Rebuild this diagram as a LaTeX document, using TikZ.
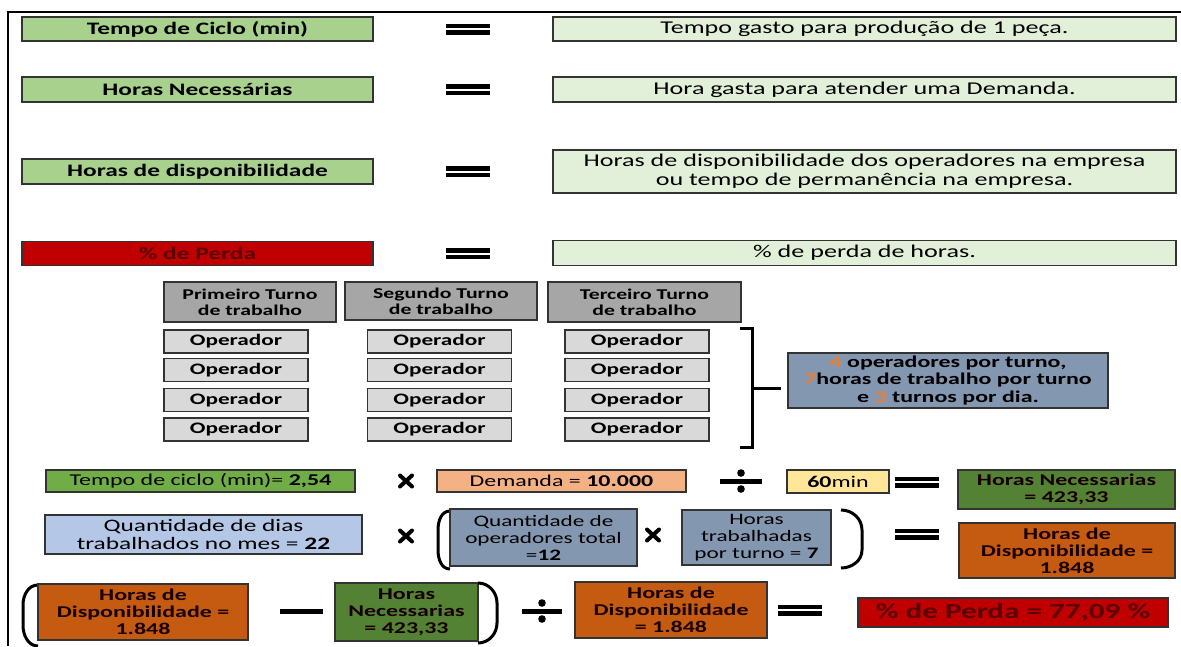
\documentclass[tikz,border=0pt]{standalone}
\usepackage{fontspec}
\setmainfont{Carlito}[FakeStretch=1.45]
\usepackage{tikz}
\usepackage{xcolor}

\definecolor{verdeClaro}{HTML}{A9D18E}
\definecolor{verdePalido}{HTML}{E2F0D9}
\definecolor{vermelho}{HTML}{C00000}
\definecolor{vermelhoEsc}{HTML}{5A0000}
\definecolor{cinzaEsc}{HTML}{A6A6A6}
\definecolor{cinzaClaro}{HTML}{D9D9D9}
\definecolor{azulCinza}{HTML}{8497B0}
\definecolor{azulClaro}{HTML}{B4C7E7}
\definecolor{verdeMedio}{HTML}{70AD47}
\definecolor{verdeEsc}{HTML}{548235}
\definecolor{laranjaClaro}{HTML}{F4B183}
\definecolor{amarelo}{HTML}{FFE699}
\definecolor{laranja}{HTML}{C55A11}
\definecolor{laranjaNum}{HTML}{ED7D31}

\newcommand{\fs}[2]{\fontsize{#1}{#2}\selectfont}

% sinais das contas
\newcommand{\sinalIgual}[2]{%
  \fill (#1-22,#2-5.5) rectangle (#1+22,#2-1);
  \fill (#1-22,#2+1) rectangle (#1+22,#2+5.5);}
\newcommand{\sinalVezes}[2]{%
  \draw[line width=4pt, line cap=round] (#1-6,#2-5.5) -- (#1+6,#2+5.5) (#1-6,#2+5.5) -- (#1+6,#2-5.5);}
\newcommand{\sinalDiv}[3]{%
  \fill (#1-#3,#2-2.5) rectangle (#1+#3,#2+2.5);
  \fill (#1,#2-8) circle[radius=3.8pt];
  \fill (#1,#2+8) circle[radius=3.8pt];}

\tikzset{
  caixa/.style={draw=black!80, line width=1.4pt, inner sep=0pt, align=center, text=black},
  conceito/.style={caixa, fill=verdeClaro, font=\bfseries\fs{17.5}{19}},
  definicao/.style={caixa, fill=verdePalido, font=\fs{18}{19}},
  turno/.style={caixa, fill=cinzaEsc, font=\bfseries\fs{15}{16}},
  operador/.style={caixa, fill=cinzaClaro, font=\bfseries\fs{16}{17}, minimum height=23},
  conta/.style={caixa, font=\fs{16.5}{17}},
  resultado/.style={caixa, font=\bfseries\fs{16.5}{17}, text=black!90!red},
  parentese/.style={line width=3pt}
}

\begin{document}
\begin{tikzpicture}[x=1pt, y=-1pt]
\useasboundingbox (0,0) rectangle (1181,646);
\draw[line width=2pt] (1181,12) -- (8,12) -- (8,646);

% definicoes
\node[conceito, minimum width=351, minimum height=24] (tcL) at (197.5,29) {Tempo de Ciclo (min)};
\node[conceito, minimum width=351, minimum height=25] (hnL) at (197.5,89.5) {Horas Necessárias};
\node[conceito, minimum width=351, minimum height=25] (hdL) at (197.5,171.5) {Horas de disponibilidade};
\node[conceito, fill=vermelho, text=vermelhoEsc, minimum width=351, minimum height=24] (ppL) at (197.5,253.5) {\% de Perda};

\node[definicao, minimum width=623, minimum height=24] (tcR) at (864.5,29) {Tempo gasto para produção de 1 peça.};
\node[definicao, minimum width=623, minimum height=25] (hnR) at (864.5,89.5) {Hora gasta para atender uma Demanda.};
\node[definicao, minimum width=623, minimum height=43] (hdR) at (864.5,171.5) {Horas de disponibilidade dos operadores na empresa\\ou tempo de permanência na empresa.};
\node[definicao, minimum width=623, minimum height=25] (ppR) at (864.5,253) {\% de perda de horas.};

\sinalIgual{468}{29}
\sinalIgual{468}{89.5}
\sinalIgual{468}{171.5}
\sinalIgual{468}{253.5}

% turnos
\node[turno, minimum width=172, minimum height=40] (t1) at (250,302) {Primeiro Turno\\de trabalho};
\node[turno, minimum width=192, minimum height=38] (t2) at (441,301) {Segundo Turno\\de trabalho};
\node[turno, minimum width=193, minimum height=40] (t3) at (644.5,302) {Terceiro Turno\\de trabalho};

\foreach \c/\x in {1/236,2/439.5,3/637}
  \foreach \r/\y in {1/341.5,2/370,3/400,4/429.5}
    \node[operador, minimum width=144] (op\c\r) at (\x,\y) {Operador};

\node[caixa, fill=azulCinza, font=\bfseries\fs{16.5}{17.5}, minimum width=320, minimum height=55] (info) at (948,380.5)
  {{\color{laranjaNum}4} operadores por turno,\\{\color{laranjaNum}7}horas de trabalho por turno\\e {\color{laranjaNum}3} turnos por dia.};
\coordinate (chave) at (752,388);
\draw[line width=3pt] (740,328) -- (752,328) -- (752,447) -- (740,447);
\draw[line width=3pt] (chave) -- ([xshift=-6pt]chave -| info.west);

% horas necessarias
\node[conta, fill=verdeMedio, minimum width=309, minimum height=22] (ciclo) at (200.5,481) {Tempo de ciclo (min)= \textbf{2,54}};
\sinalVezes{406}{481}
\node[conta, fill=laranjaClaro, minimum width=249, minimum height=22] (dem) at (561.5,481) {Demanda = \textbf{10.000}};
\sinalDiv{741}{481}{21}
\node[conta, fill=amarelo, minimum width=102, minimum height=23] (min) at (838,481.5) {\textbf{60}min};
\sinalIgual{917}{482}
\node[resultado, fill=verdeEsc, minimum width=217, minimum height=39] (hnA) at (1066.5,489.5) {Horas Necessarias\\= 423,33};

% horas de disponibilidade
\node[conta, fill=azulClaro, font=\fs{17.5}{18}, minimum width=317, minimum height=39] (dias) at (203.5,534.5) {Quantidade de dias\\trabalhados no mes = \textbf{22}};
\sinalVezes{406}{536}
\draw[parentese] (450,511) to[out=180,in=90] (438,530) -- (438,550) to[out=-90,in=180] (450,569);
\node[conta, fill=azulCinza, font=\fs{16}{17}, minimum width=187, minimum height=57] (qop) at (543.5,537.5) {Quantidade de\\operadores total\\=\textbf{12}};
\sinalVezes{653}{535}
\node[conta, fill=azulCinza, font=\fs{16}{17}, minimum width=149, minimum height=55] (htr) at (756.5,537.5) {Horas\\trabalhadas\\por turno = \textbf{7}};
\draw[parentese] (841,510) to[out=0,in=90] (862,530) -- (862,550) to[out=-90,in=0] (841,568);
\sinalIgual{917}{534}
\node[resultado, fill=laranja, minimum width=216, minimum height=55] (hdB) at (1067,550.5) {Horas de\\Disponibilidade =\\1.848};

% perda
\draw[parentese] (38,585) to[out=180,in=90] (23,605) -- (23,625) to[out=-90,in=180] (38,646);
\node[resultado, fill=laranja, minimum width=210, minimum height=56] (hdC) at (143,612) {Horas de\\Disponibilidade =\\1.848};
\fill (280,608.5) rectangle (323,613.5);
\node[resultado, fill=verdeEsc, minimum width=143, minimum height=58] (hnC) at (406.5,612) {Horas\\Necessarias\\= 423,33};
\draw[parentese] (478,583) to[out=0,in=90] (497,603) -- (497,623) to[out=-90,in=0] (478,643);
\sinalDiv{542}{611}{20}
\node[resultado, fill=laranja, minimum width=192, minimum height=56] (hdD) at (671,610) {Horas de\\Disponibilidade\\= 1.848};
\sinalIgual{800}{610}
\node[caixa, fill=vermelho, text=vermelhoEsc, font=\bfseries\fs{21.5}{23}, minimum width=310, minimum height=29] (perda) at (1013,612.5) {\% de Perda = 77,09 \%};
\end{tikzpicture}
\end{document}
